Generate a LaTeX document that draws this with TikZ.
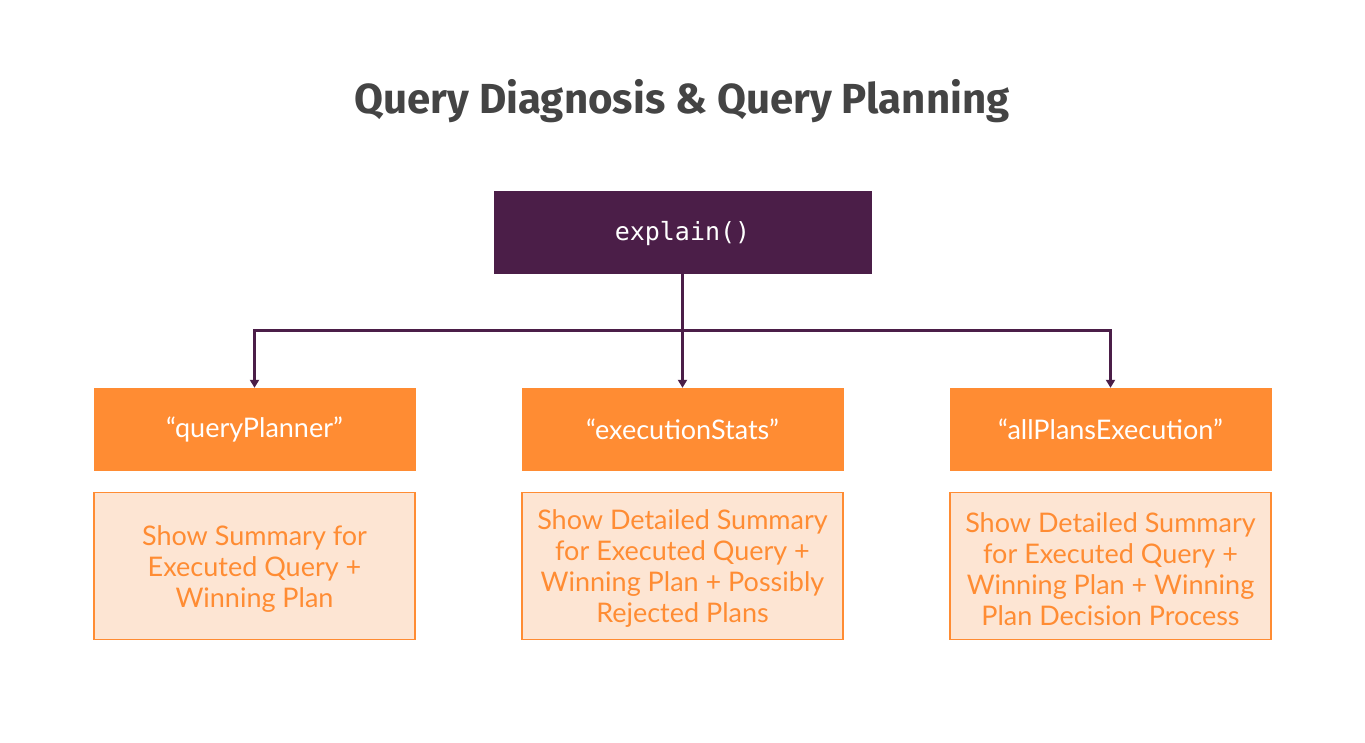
\documentclass[tikz,border=0pt]{standalone}
\usepackage{fontspec}
\setmainfont{Lato}
\newfontfamily\titlefont{Fira Sans}
\newfontfamily\codefont{DejaVu Sans Mono}
\usetikzlibrary{arrows.meta}
\definecolor{purp}{HTML}{4B1E48}
\definecolor{orng}{HTML}{FF8C33}
\definecolor{lightor}{HTML}{FDE5D3}
\definecolor{titlegray}{HTML}{444444}
\tikzset{
  mainbox/.style={fill=purp, draw=purp, minimum width=377pt, minimum height=82pt, inner sep=0pt},
  maintext/.style={text=white, inner sep=0pt, font=\codefont\fontsize{25}{30}\selectfont},
  modebox/.style={fill=orng, draw=orng, minimum width=321pt, minimum height=82pt, inner sep=0pt, text=white, font=\fontsize{27}{32}\selectfont},
  descbox/.style={fill=lightor, draw=orng, line width=1.5pt, minimum width=321pt, minimum height=147pt, inner sep=0pt},
  desctext/.style={text=orng, inner sep=0pt, align=center, font=\fontsize{27}{31}\selectfont},
  conn/.style={draw=purp, line width=3pt, -{Triangle[length=8pt,width=9pt]}},
}
\begin{document}
\begin{tikzpicture}[x=1pt,y=-1pt]
\useasboundingbox (0,0) rectangle (1365,742);
\node[text=titlegray, font=\titlefont\bfseries\fontsize{42}{48}\selectfont] (title) at (682,101) {Query Diagnosis \& Query Planning};
\node[mainbox] (explain) at (682.5,232) {};
\node[maintext] (explaint) at ([yshift=-2pt]explain.center) {explain()};
\node[modebox] (qp) at (254.5,429) {“queryPlanner”};
\node[modebox] (es) at (682.5,429) {“executionStats”};
\node[modebox] (ap) at (1110.5,429) {“allPlansExecution”};
\node[descbox] (dqp) at (254.5,566) {};
\node[descbox] (des) at (682.5,566) {};
\node[descbox] (dap) at (1110.5,566) {};
\node[desctext] (dqpt) at ([yshift=-3pt]dqp.center) {Show Summary for\\Executed Query +\\Winning Plan};
\node[desctext] (dest) at ([yshift=-3pt]des.center) {Show Detailed Summary\\for Executed Query +\\Winning Plan + Possibly\\Rejected Plans};
\node[desctext] (dapt) at ([yshift=-3pt]dap.center) {Show Detailed Summary\\for Executed Query +\\Winning Plan + Winning\\Plan Decision Process};
\coordinate (j) at (682.5,330);
\draw[conn] (explain.south) -- (es.north);
\draw[conn] (j) -| (qp.north);
\draw[conn] (j) -| (ap.north);
\end{tikzpicture}
\end{document}
